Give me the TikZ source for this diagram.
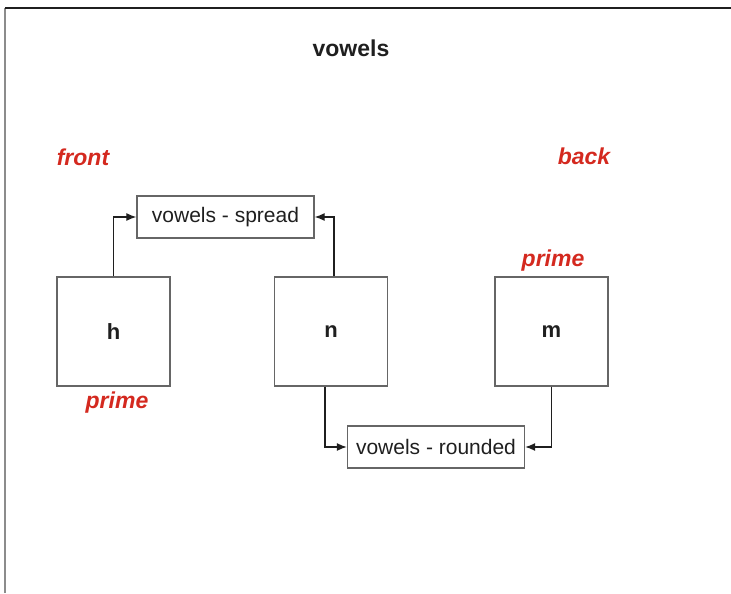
\documentclass[tikz,border=0pt]{standalone}
\usepackage{fontspec}
\setmainfont{Liberation Sans}
\usetikzlibrary{arrows.meta, positioning}
\definecolor{labelred}{rgb}{0.83, 0.16, 0.12}
\definecolor{boxgrey}{rgb}{0.40, 0.40, 0.40}
\definecolor{textdark}{rgb}{0.12, 0.12, 0.12}

\begin{document}
\begin{tikzpicture}[x=0.5pt, y=-0.5pt,
        letterbox/.style = {draw=boxgrey, line width=0.7pt, minimum width=56.5pt, minimum height=54.5pt, inner sep=0pt, font=\fontsize{11}{13}\selectfont\bfseries, text=textdark},
        groupbox/.style = {draw=boxgrey, line width=0.7pt, minimum width=88.5pt, minimum height=21pt, inner sep=0pt, font=\fontsize{10.5}{12}\selectfont, text=textdark},
        redlabel/.style = {font=\fontsize{11.5}{13}\selectfont\bfseries\itshape, text=labelred},
        link/.style = {draw=textdark, line width=0.6pt, -{Latex[length=5pt, width=4pt]}}]
    \useasboundingbox (0,0) rectangle (731,593);
    % frame
    \draw[draw=gray!90, line width=1pt] (5,593) -- (5,8);
    \draw[draw=textdark, line width=1pt] (5,8) -- (731,8);

    \node[font=\fontsize{11.5}{13}\selectfont\bfseries, text=textdark] (title) at (351,48) {vowels};
    \node[redlabel] (front) at (83,157) {front};
    \node[redlabel] (back) at (584,156) {back};

    \node[groupbox] (spread) at (225.5,217) {vowels - spread};
    \node[groupbox] (rounded) at (436,447) {vowels - rounded};

    \node[letterbox] (h) at (113.5,331.5) {h};
    \node[letterbox] (n) at (331,331.5) {n};
    \node[letterbox] (m) at (551.5,331.5) {m};

    \node[redlabel] (hprime) at (117,403) {prime};
    \node[redlabel] (mprime) at (553,261) {prime};

    \draw[link] (h.north) |- (spread.west);
    \draw[link] ([xshift=1.5pt]n.north) |- (spread.east);
    \draw[link] ([xshift=-3pt]n.south) |- (rounded.west);
    \draw[link] (m.south) |- (rounded.east);
\end{tikzpicture}
\end{document}
